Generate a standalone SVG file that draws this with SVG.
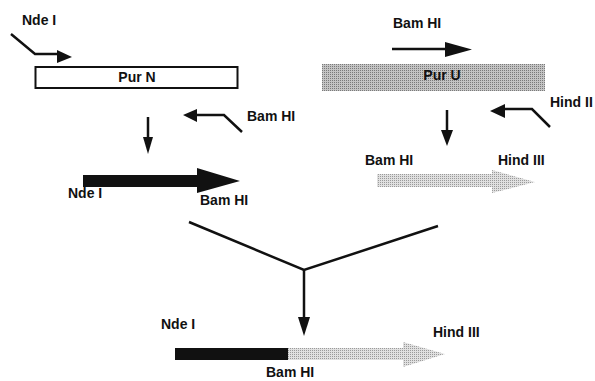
<svg xmlns="http://www.w3.org/2000/svg" width="595" height="381" viewBox="0 0 595 381">
<style>
text{font-family:"Liberation Sans",Arial,sans-serif;font-weight:bold;font-size:14px;fill:#111}
.ln{fill:none;stroke:#111;stroke-width:2.5;stroke-linejoin:miter}
.hd{fill:#111}
</style>
<defs>
<pattern id="st1" width="2" height="2" patternUnits="userSpaceOnUse">
<rect width="2" height="2" fill="#c4c4c4"/><rect width="1" height="1" fill="#7a7a7a"/>
</pattern>
<pattern id="st2" width="2" height="2" patternUnits="userSpaceOnUse">
<rect width="2" height="2" fill="#e0e0e0"/><rect width="1" height="1" fill="#9a9a9a"/>
</pattern>
</defs>
<rect width="595" height="381" fill="#fff"/>

<g id="purN">
<rect x="35.5" y="67" width="202" height="21" fill="#fff" stroke="#111" stroke-width="2"/>
<text x="137" y="82" text-anchor="middle">Pur  N</text>
</g>
<g id="primerNdeI">
<text x="22" y="25">Nde I</text>
<polyline class="ln" points="11,34 35,54 58,54"/>
<polygon class="hd" points="57,50 72,57 57,63"/>
</g>
<g id="primerBamHI_left">
<text x="247" y="121">Bam HI</text>
<polyline class="ln" points="242,132 224,115 195,115"/>
<polygon class="hd" points="183,115 197,109 197,122"/>
</g>
<g id="purU">
<rect x="322" y="64" width="223" height="27" fill="url(#st1)"/>
<text x="442" y="80" text-anchor="middle">Pur U</text>
</g>
<g id="primerBamHI_right">
<text x="393" y="28">Bam HI</text>
<line class="ln" x1="392" y1="49" x2="447" y2="49"/>
<polygon class="hd" points="445,42 472,49.5 445,57"/>
</g>
<g id="primerHindII">
<text x="550" y="107">Hind II</text>
<polyline class="ln" points="550,127 532,109 503,109"/>
<polygon class="hd" points="490,111 505,104 505,118"/>
</g>

<g id="productN">
<polygon fill="#111" points="83,175 197,175 197,168 240,181 197,193 197,187 83,187"/>
<text x="68" y="198">Nde I</text>
<text x="200" y="205">Bam HI</text>
</g>
<g id="productU">
<polygon fill="url(#st2)" points="377,174 492,174 492,170 535,182 492,193 492,187 377,187"/>
<text x="365" y="165">Bam HI</text>
<text x="498" y="165">Hind III</text>
</g>
<g id="fusion">
<polygon fill="url(#st2)" points="288,348 403,348 403,342 445,354 403,367 403,360 288,360"/>
<rect x="175" y="348" width="113" height="12" fill="#111"/>
<text x="161" y="329">Nde I</text>
<text x="433" y="337">Hind III</text>
<text x="266" y="377">Bam HI</text>
</g>

<g id="connectors">
<line class="ln" x1="148" y1="117" x2="148" y2="138"/>
<polygon class="hd" points="143,137 153,137 148,154"/>
<line class="ln" x1="447" y1="110" x2="447" y2="131"/>
<polygon class="hd" points="441,130 453,130 447,146"/>
<polyline class="ln" points="189,222 304,270 438,226"/>
<line class="ln" x1="304" y1="270" x2="304" y2="318"/>
<polygon class="hd" points="298,317 310,317 304,336"/>
</g>
</svg>
